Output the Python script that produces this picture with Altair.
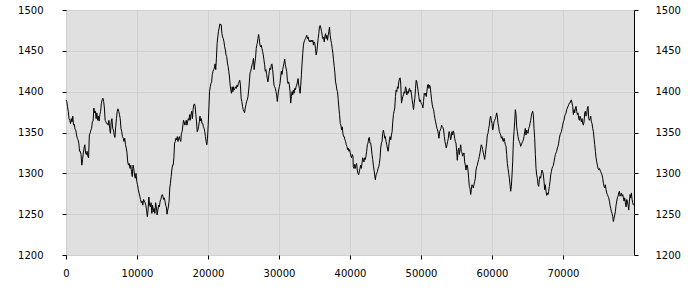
import altair as alt
import numpy as np
import pandas as pd

# Series values, in six consecutive stretches along x
SEG1 = [1390, 1388, 1382, 1376, 1367, 1365, 1361, 1367, 1363, 1370,
        1359, 1360, 1354, 1353, 1347, 1343, 1341, 1337, 1327, 1327,
        1323, 1310, 1317, 1325, 1331, 1335, 1325, 1323, 1327, 1321,
        1319, 1347, 1349, 1353, 1355, 1363, 1364, 1380, 1374, 1376,
        1367, 1374, 1365, 1370, 1364, 1372, 1376, 1386, 1390, 1392,
        1388, 1380, 1365, 1363, 1361, 1361, 1359, 1365, 1355, 1349,
        1363, 1367, 1355, 1353, 1347, 1344, 1357, 1367, 1376, 1379,
        1376, 1372, 1367, 1355, 1351, 1345, 1343, 1339, 1343, 1335,
        1331, 1325, 1314, 1310, 1312, 1306, 1310, 1302, 1296, 1310,
        1306, 1298, 1294, 1300, 1290, 1286, 1280, 1276, 1272, 1268,
        1264, 1266, 1261, 1268, 1266, 1264, 1261, 1255, 1247, 1255,
        1271, 1261, 1259, 1264, 1251, 1261, 1253, 1257, 1251, 1264,
        1259, 1249, 1255, 1261, 1259, 1266, 1268]
SEG2 = [1272, 1274, 1272, 1268, 1270, 1266, 1261, 1259, 1250, 1255,
        1259, 1266, 1282, 1288, 1296, 1304, 1310, 1310, 1319, 1337,
        1339, 1343, 1341, 1345, 1339, 1343, 1345, 1341, 1339, 1349,
        1351, 1358, 1365, 1363, 1359, 1361, 1365, 1359, 1363, 1367,
        1365, 1372, 1365, 1372, 1376, 1367, 1378, 1384, 1385, 1382,
        1372, 1363, 1351, 1353, 1357, 1363, 1370, 1364, 1367, 1361,
        1361, 1357, 1355, 1351, 1345, 1339, 1335, 1343, 1359, 1380,
        1400, 1406, 1410, 1412, 1421, 1425, 1427, 1429, 1434, 1427,
        1441, 1459, 1467, 1474, 1478, 1483, 1482, 1482, 1471, 1467,
        1465, 1461, 1455, 1451, 1445, 1443, 1435, 1431, 1425, 1418,
        1408, 1402, 1398, 1406, 1400, 1406, 1402, 1404, 1406, 1404,
        1408, 1406, 1410, 1412, 1414, 1408, 1392, 1388, 1382, 1378,
        1376, 1374, 1380, 1384, 1388, 1390, 1394, 1402, 1412, 1423,
        1425, 1429, 1433, 1435, 1441, 1427, 1435, 1441, 1453, 1458]
SEG3 = [1459, 1465, 1470, 1465, 1457, 1455, 1457, 1453, 1449, 1445,
        1439, 1433, 1425, 1427, 1421, 1416, 1412, 1418, 1425, 1429,
        1427, 1433, 1434, 1427, 1418, 1408, 1406, 1404, 1400, 1396,
        1388, 1396, 1402, 1406, 1410, 1418, 1425, 1421, 1427, 1431,
        1435, 1440, 1433, 1429, 1425, 1414, 1410, 1412, 1408, 1400,
        1386, 1394, 1400, 1396, 1402, 1398, 1404, 1402, 1406, 1408,
        1412, 1416, 1408, 1404, 1398, 1408, 1421, 1435, 1447, 1457,
        1461, 1463, 1465, 1467, 1469, 1465, 1467, 1463, 1461, 1463,
        1461, 1463, 1461, 1463, 1457, 1461, 1459, 1453, 1445, 1449,
        1457, 1465, 1471, 1480, 1481, 1478, 1474, 1469, 1465, 1467,
        1461, 1467, 1471, 1465, 1469, 1463, 1469, 1474, 1479, 1469,
        1463, 1459, 1453, 1447, 1439, 1431, 1423, 1412, 1408, 1402,
        1400, 1390, 1380, 1372, 1361, 1359, 1353, 1357, 1349, 1345,
        1345, 1341, 1339, 1335, 1333, 1329, 1331, 1327, 1329, 1325,
        1321, 1319, 1323, 1321]
SEG4 = [1308, 1306, 1311, 1306, 1310, 1312, 1304, 1300, 1298, 1302,
        1306, 1310, 1306, 1312, 1319, 1317, 1314, 1319, 1317, 1321,
        1327, 1335, 1337, 1343, 1344, 1337, 1337, 1331, 1323, 1317,
        1310, 1304, 1298, 1292, 1298, 1300, 1302, 1306, 1308, 1312,
        1319, 1331, 1337, 1339, 1349, 1353, 1349, 1343, 1345, 1339,
        1335, 1331, 1327, 1333, 1341, 1345, 1341, 1347, 1351, 1363,
        1372, 1376, 1380, 1394, 1402, 1400, 1406, 1404, 1412, 1416,
        1417, 1408, 1386, 1390, 1394, 1396, 1400, 1398, 1406, 1404,
        1396, 1400, 1398, 1402, 1404, 1400, 1402, 1396, 1390, 1384,
        1378, 1386, 1392, 1404, 1414, 1412, 1406, 1400, 1394, 1388,
        1390, 1387, 1385, 1384, 1380, 1388, 1398, 1396, 1398, 1394,
        1400, 1408, 1409, 1404, 1408, 1406, 1398, 1390, 1384, 1380,
        1378, 1372, 1367, 1363, 1359, 1355, 1353, 1349, 1343, 1351,
        1353, 1355, 1359, 1357, 1356, 1353, 1345, 1339, 1335, 1331,
        1335, 1339, 1343, 1351]
SEG5 = [1351, 1347, 1341, 1345, 1351, 1347, 1352, 1349, 1343, 1339,
        1337, 1327, 1316, 1327, 1331, 1323, 1329, 1335, 1327, 1325,
        1321, 1323, 1325, 1314, 1310, 1304, 1310, 1310, 1304, 1294,
        1284, 1282, 1274, 1280, 1286, 1284, 1282, 1286, 1290, 1294,
        1304, 1308, 1310, 1314, 1317, 1321, 1325, 1331, 1335, 1333,
        1329, 1325, 1321, 1317, 1323, 1331, 1337, 1347, 1349, 1355,
        1359, 1367, 1370, 1365, 1361, 1353, 1357, 1363, 1365, 1367,
        1370, 1374, 1370, 1361, 1357, 1351, 1349, 1347, 1343, 1345,
        1341, 1339, 1343, 1339, 1335, 1333, 1323, 1312, 1306, 1300,
        1294, 1286, 1278, 1284, 1298, 1314, 1339, 1351, 1363, 1378,
        1372, 1357, 1351, 1345, 1341, 1339, 1337, 1333, 1335, 1337,
        1339, 1341, 1345, 1351, 1355, 1347, 1353, 1351, 1349, 1355,
        1357, 1361, 1365, 1370, 1374, 1376, 1372, 1355, 1343, 1323,
        1306, 1298, 1294, 1286, 1284, 1292, 1296, 1294, 1300, 1304,
        1302, 1298, 1290, 1280, 1286]
SEG6 = [1278, 1273, 1276, 1274, 1278, 1284, 1290, 1298, 1302, 1306,
        1308, 1310, 1314, 1319, 1323, 1325, 1327, 1331, 1333, 1337,
        1343, 1347, 1349, 1351, 1355, 1359, 1363, 1365, 1370, 1372,
        1374, 1378, 1380, 1382, 1384, 1386, 1386, 1389, 1390, 1386,
        1382, 1372, 1378, 1374, 1380, 1382, 1376, 1372, 1374, 1367,
        1365, 1370, 1367, 1363, 1367, 1361, 1359, 1363, 1374, 1376,
        1370, 1372, 1380, 1382, 1367, 1365, 1367, 1370, 1363, 1361,
        1355, 1351, 1343, 1335, 1327, 1319, 1314, 1310, 1306, 1304,
        1306, 1304, 1302, 1300, 1298, 1294, 1288, 1284, 1282, 1286,
        1280, 1276, 1274, 1272, 1270, 1266, 1261, 1257, 1253, 1251,
        1247, 1241, 1245, 1249, 1253, 1261, 1266, 1270, 1272, 1276,
        1278, 1272, 1274, 1276, 1272, 1274, 1270, 1266, 1270, 1264,
        1259, 1268, 1266, 1261, 1255, 1266, 1274, 1270, 1276, 1268,
        1264, 1261]

SEGMENTS = [SEG1, SEG2, SEG3, SEG4, SEG5, SEG6]
# x range (data units) covered by each stretch
SEG_X_START = [0, 13456, 26936, 40462, 53989, 67609]
SEG_X_END = [13363, 26889, 40416, 53942, 67516, 79915]

X_TICKS = [0, 10000, 20000, 30000, 40000, 50000, 60000, 70000]
Y_TICKS = [1200, 1250, 1300, 1350, 1400, 1450, 1500]

xs, ys = [], []
for seg, a, b in zip(SEGMENTS, SEG_X_START, SEG_X_END):
    xs.extend(np.linspace(a, b, len(seg)).tolist())
    ys.extend(seg)
df = pd.DataFrame({"x": xs, "y": ys})

FONT = "DejaVu Sans"
GRID = "#d0d0d0"

xenc = alt.X(
    "x:Q",
    scale=alt.Scale(domain=[0, 80000], nice=False, zero=False),
    axis=alt.Axis(values=X_TICKS, title=None, format="d", grid=True,
                  gridColor=GRID, domain=False, tickColor="black",
                  tickSize=4, labelPadding=9, labelFont=FONT,
                  labelFontSize=10, labelColor="black", labelFlush=False),
)

left = alt.Chart(df).mark_line(color="black", strokeWidth=1).encode(
    x=xenc,
    y=alt.Y(
        "y:Q",
        scale=alt.Scale(domain=[1200, 1500], nice=False, zero=False),
        axis=alt.Axis(values=Y_TICKS, title=None, orient="left", grid=True,
                      format="d", gridColor=GRID, domain=False,
                      tickColor="black", tickSize=4, labelPadding=19,
                      labelFont=FONT, labelFontSize=10, labelColor="black",
                      labelFlush=False),
    ),
)

right = alt.Chart(df).mark_line(strokeOpacity=0).encode(
    x=xenc,
    y=alt.Y(
        "y:Q",
        scale=alt.Scale(domain=[1200, 1500], nice=False, zero=False),
        axis=alt.Axis(values=Y_TICKS, title=None, orient="right", grid=False,
                      format="d", domain=False, tickColor="black", tickSize=4,
                      labelPadding=17, labelFont=FONT, labelFontSize=10,
                      labelColor="black", labelFlush=False),
    ),
)

chart = alt.layer(left, right).resolve_scale(y="independent").properties(
    width=568,
    height=245,
    autosize=alt.AutoSizeParams(type="none"),
    padding={"left": 66, "top": 10, "right": 66, "bottom": 45},
    background="white",
).configure_view(fill="#e0e0e0", stroke="black", strokeWidth=1)

chart.save("out.html", embed_options={"renderer": "svg", "actions": False})
